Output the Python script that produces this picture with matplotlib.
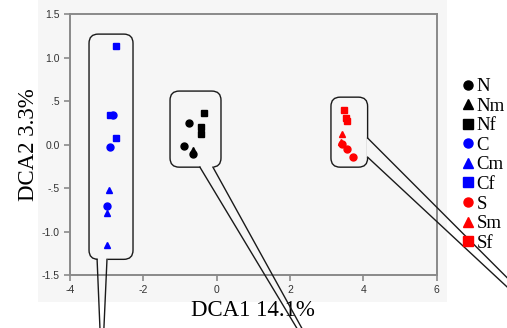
import numpy as np
import matplotlib
matplotlib.use('Agg')
import matplotlib.pyplot as plt
from matplotlib.patches import FancyBboxPatch, Rectangle

# group samples: (x, y)
groups = ['N', 'Nm', 'Nf', 'C', 'Cm', 'Cf', 'S', 'Sm', 'Sf']
colors = ['black', 'black', 'black', 'blue', 'blue', 'blue', 'red', 'red', 'red']
markers = ['o', '^', 's', 'o', '^', 's', 'o', '^', 's']

N_x = [-0.76, -0.89, -0.65]
N_y = [0.25, -0.02, -0.11]
Nm_x = [-0.65]
Nm_y = [-0.06]
Nf_x = [-0.35, -0.43, -0.43]
Nf_y = [0.36, 0.20, 0.12]
C_x = [-2.82, -2.90, -2.98]
C_y = [0.34, -0.03, -0.71]
Cm_x = [-2.93, -2.98, -3.00]
Cm_y = [-0.52, -0.79, -1.16]
Cf_x = [-2.75, -2.90, -2.75]
Cf_y = [1.13, 0.34, 0.08]
S_x = [3.43, 3.55, 3.72]
S_y = [0.01, -0.05, -0.14]
Sm_x = [3.43, 3.40]
Sm_y = [0.12, 0.03]
Sf_x = [3.48, 3.53, 3.55]
Sf_y = [0.40, 0.30, 0.27]

xs = [N_x, Nm_x, Nf_x, C_x, Cm_x, Cf_x, S_x, Sm_x, Sf_x]
ys = [N_y, Nm_y, Nf_y, C_y, Cm_y, Cf_y, S_y, Sm_y, Sf_y]

xticks = [-4, -2, 0, 2, 4, 6]
xticklabels = ['-4', '-2', '0', '2', '4', '6']
yticks = [1.5, 1.0, 0.5, 0.0, -0.5, -1.0, -1.5]
yticklabels = ['1.5', '1.0', '.5', '0.0', '-.5', '-1.0', '-1.5']

bg = '#f6f6f6'
fig = plt.figure(figsize=(5.07, 3.28), dpi=100)
fig.patch.set_facecolor('white')
fig.patches.append(Rectangle((0.075, 0.079), 0.807, 0.921, transform=fig.transFigure,
                             facecolor=bg, edgecolor='none', zorder=-10))
ax = fig.add_axes([0.138, 0.1616, 0.723, 0.7954])
ax.set_facecolor(bg)

for i in range(len(groups)):
    ax.plot(xs[i], ys[i], linestyle='none', marker=markers[i], color=colors[i],
            markersize=5, label=groups[i], zorder=5, clip_on=False)

ax.set_xlim(-4, 6)
ax.set_ylim(-1.5, 1.5)
ax.set_xticks(xticks)
ax.set_xticklabels(xticklabels)
ax.set_yticks(yticks)
ax.set_yticklabels(yticklabels)
for sp in ax.spines.values():
    sp.set_color('#8a8a8a')
    sp.set_linewidth(1.4)
ax.tick_params(direction='out', length=4, width=1.2, color='#8a8a8a',
               labelsize=7.5, labelcolor='#333333')
for lab in ax.get_xticklabels() + ax.get_yticklabels():
    lab.set_family('Liberation Sans')

ax.set_xlabel('DCA1 14.1%', family='Liberation Serif', fontsize=16.5, labelpad=3)
ax.set_ylabel('DCA2 3.3%', family='Liberation Serif', fontsize=16.5, labelpad=2)

# callout boxes with tails (data coords)
asp = 36.67 / 87.0
callouts = [
    # (x0, x1, y0, y1, base1, base2, tip)
    (-3.48, -2.28, -1.32, 1.27, (-3.26, -1.32), (-2.99, -1.32), (-3.13, -2.64)),
    (-1.27, 0.12, -0.26, 0.615, (-0.455, -0.26), (-0.10, -0.26), (3.83, -3.26)),
    (3.12, 4.12, -0.26, 0.545, (4.12, 0.075), (4.12, -0.145), (11.5, -3.04)),
]
for x0, x1, y0, y1, b1, b2, tip in callouts:
    box = FancyBboxPatch((x0, y0), x1 - x0, y1 - y0,
                         boxstyle='round,pad=0,rounding_size=0.25',
                         mutation_aspect=asp, facecolor='none',
                         edgecolor='#1a1a1a', lw=1.0, zorder=3, clip_on=False)
    ax.add_patch(box)
    ax.plot([b1[0], b2[0]], [b1[1], b2[1]], color=bg, lw=2.2, zorder=3.5,
            solid_capstyle='butt', clip_on=False)
    ax.plot([b1[0], tip[0]], [b1[1], tip[1]], color='#1a1a1a', lw=1.0,
            zorder=4, clip_on=False)
    ax.plot([b2[0], tip[0]], [b2[1], tip[1]], color='#1a1a1a', lw=1.0,
            zorder=4, clip_on=False)

leg = fig.legend(loc='upper left', bbox_to_anchor=(0.912, 0.762), frameon=False,
                 prop={'family': 'Liberation Serif', 'size': 13.5},
                 handlelength=0.6, handletextpad=0.15, borderpad=0,
                 labelspacing=0.13, borderaxespad=0, markerscale=1.3)

fig.savefig('out.png', dpi=100, facecolor='white')
